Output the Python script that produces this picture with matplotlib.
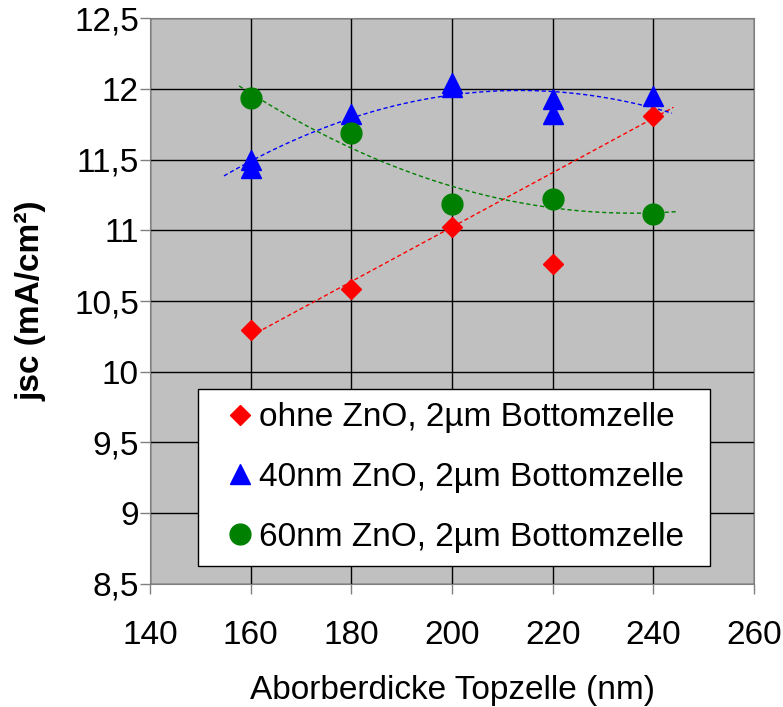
import numpy as np
import matplotlib
matplotlib.use('Agg')
import matplotlib.pyplot as plt

plt.rcParams['font.family'] = ['Liberation Sans', 'DejaVu Sans']

# data
x_ticks = [140, 160, 180, 200, 220, 240, 260]
y_ticks = [8.5, 9, 9.5, 10, 10.5, 11, 11.5, 12, 12.5]
y_tick_labels = ['8,5', '9', '9,5', '10', '10,5', '11', '11,5', '12', '12,5']

red_x = [160, 180, 200, 220, 240]
red_y = [10.295, 10.583, 11.02, 10.761, 11.807]
red_label = 'ohne ZnO, 2µm Bottomzelle'

blue_x = [160, 160, 180, 200, 200, 220, 220, 240]
blue_y = [11.50, 11.44, 11.82, 12.04, 12.01, 11.93, 11.82, 11.947]
blue_label = '40nm ZnO, 2µm Bottomzelle'

green_x = [160, 180, 200, 220, 240]
green_y = [11.936, 11.687, 11.184, 11.221, 11.113]
green_label = '60nm ZnO, 2µm Bottomzelle'


# trend line (least squares polynomial), optionally leaving some x out
def fit(xs, ys, deg, exclude=()):
    xs = np.array(xs, float)
    ys = np.array(ys, float)
    keep = ~np.isin(xs, exclude)
    return np.poly1d(np.polyfit(xs[keep], ys[keep], deg))


red_fit = fit(red_x, red_y, 1, exclude=[220])
blue_fit = fit(blue_x, blue_y, 2)
green_fit = fit(green_x, green_y, 2)

fig = plt.figure(figsize=(7.83, 7.07), dpi=100)
ax = fig.add_axes([0.1916, 0.174, 0.7714, 0.8005])
ax.set_facecolor('#C0C0C0')

dash = (0, (3, 2))
xr = np.linspace(160, 244, 100)
ax.plot(xr, red_fit(xr), color='red', lw=1, ls=dash, zorder=2)
xb = np.linspace(154.7, 243.7, 100)
ax.plot(xb, blue_fit(xb), color='blue', lw=1, ls=dash, zorder=2)
xg = np.linspace(157.7, 244.6, 100)
ax.plot(xg, green_fit(xg), color='green', lw=1, ls=dash, zorder=2)

ax.plot(red_x, red_y, 'D', color='red', ms=10, ls='none', label=red_label, zorder=3)
ax.plot(blue_x, blue_y, '^', color='blue', ms=15, ls='none', label=blue_label, zorder=3)
ax.plot(green_x, green_y, 'o', color='green', ms=15, ls='none', label=green_label, zorder=3)

ax.set_xlim(140, 260)
ax.set_ylim(8.5, 12.5)
ax.set_xticks(x_ticks)
ax.set_yticks(y_ticks)
ax.set_yticklabels(y_tick_labels)
ax.grid(True, color='black', lw=1)
ax.set_axisbelow(True)
for s in ax.spines.values():
    s.set_color('#808080')
ax.tick_params(axis='x', direction='out', length=7, width=1, color='#808080', labelsize=24, pad=19)
ax.tick_params(axis='y', direction='out', length=7, width=1, color='#808080', labelsize=24, pad=1)

ax.set_xlabel('Aborberdicke Topzelle (nm)', fontsize=24, labelpad=17)
ax.set_ylabel('jsc (mA/cm²)', fontsize=24, fontweight='bold', labelpad=20)

leg = ax.legend(loc='lower left', bbox_to_anchor=(0.079, 0.032, 0.848, 0.3), mode='expand',
                fontsize=24, frameon=True, fancybox=False, framealpha=1, edgecolor='black',
                handlelength=1.74, handletextpad=-0.3, labelspacing=0.86, borderpad=0.4,
                borderaxespad=0, markerscale=1)
leg.get_frame().set_linewidth(1)

fig.savefig('out.png', dpi=100)
